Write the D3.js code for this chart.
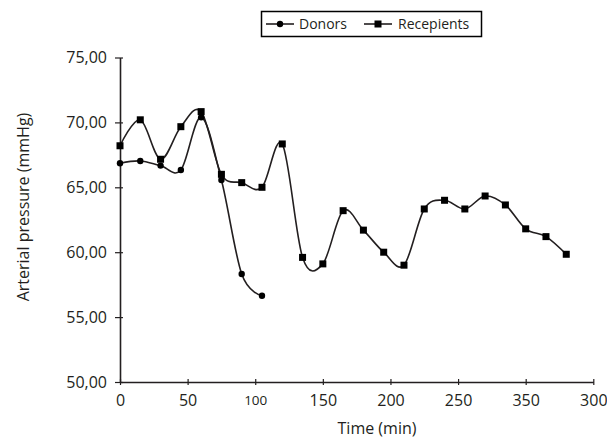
<!DOCTYPE html>
<html>
<head>
<meta charset="utf-8">
<script src="https://cdn.jsdelivr.net/npm/d3@7"></script>
<style>
  html, body { margin: 0; padding: 0; background: #fff; }
  svg { display: block; font-family: "Open Sans", "DejaVu Sans", sans-serif; }
</style>
</head>
<body>
<svg id="chart" width="607" height="440"></svg>
<script>
// ---- data ----
const donorTimes = [0, 15, 30, 45, 60, 75, 90, 105];
const donorValues = [66.85, 67.03, 66.67, 66.33, 70.39, 65.56, 58.32, 56.65];

const recipientTimes = [0, 15, 30, 45, 60, 75, 90, 105, 120, 135, 150, 165, 180, 195, 210, 225, 240, 255, 270, 285, 300, 315, 330];
const recipientValues = [68.2, 70.2, 67.16, 69.67, 70.83, 66.0, 65.36, 65.0, 68.34, 59.6, 59.1, 63.2, 61.7, 60.0, 59.0, 63.33, 64.0, 63.33, 64.33, 63.64, 61.8, 61.2, 59.84];

const xTickValues = [0, 50, 100, 150, 200, 250, 300, 350];
const xTickLabels = ["0", "50", "100", "150", "200", "250", "350", "300"];
const yTickValues = [50, 55, 60, 65, 70, 75];
const yTickLabels = ["50,00", "55,00", "60,00", "65,00", "70,00", "75,00"];

const seriesNames = ["Donors", "Recepients"];

// ---- layout ----
const svg = d3.select("#chart");
const x = d3.scaleLinear().domain([0, 350]).range([120, 593.3]);
const y = d3.scaleLinear().domain([50, 75]).range([382, 57.5]);
const ink = "#231f20";

// axes
const xAxis = d3.axisBottom(x).tickValues(xTickValues)
  .tickFormat((d, i) => xTickLabels[i]).tickSizeInner(3).tickSizeOuter(0).tickPadding(10);
const gx = svg.append("g").attr("transform", `translate(0,${y(50)})`).call(xAxis);
gx.select(".domain").attr("stroke", ink).attr("stroke-width", 1.6);
gx.selectAll(".tick line").attr("stroke", ink).attr("stroke-width", 1.2).attr("y1", -3).attr("y2", 3);
gx.selectAll(".tick text").attr("fill", ink).attr("font-size", (d, i) => xTickLabels[i] === "100" ? 13.5 : 16)
  .attr("font-family", "'Open Sans', sans-serif");

const yAxis = d3.axisLeft(y).tickValues(yTickValues)
  .tickFormat((d, i) => yTickLabels[i]).tickSizeInner(5).tickSizeOuter(0).tickPadding(8);
const gy = svg.append("g").attr("transform", `translate(${x(0)},0)`).call(yAxis);
gy.select(".domain").attr("stroke", ink).attr("stroke-width", 1.6);
gy.selectAll(".tick line").attr("stroke", ink).attr("stroke-width", 1.2).attr("x1", 3).attr("x2", -5);
gy.selectAll(".tick text").attr("fill", ink).attr("font-size", 16)
  .attr("font-family", "'Open Sans', sans-serif");

// axis titles
svg.append("text").attr("x", 377).attr("y", 434).attr("text-anchor", "middle")
  .attr("font-size", 16).attr("fill", ink).text("Time (min)");
svg.append("text").attr("transform", "translate(29,207) rotate(-90)").attr("text-anchor", "middle")
  .attr("font-size", 16).attr("fill", ink).text("Arterial pressure (mmHg)");

// lines
const line = d3.line().x(d => x(d[0])).y(d => y(d[1])).curve(d3.curveCardinal.tension(0));
const donors = donorTimes.map((t, i) => [t, donorValues[i]]);
const recips = recipientTimes.map((t, i) => [t, recipientValues[i]]);

svg.append("path").datum(recips).attr("d", line).attr("fill", "none")
  .attr("stroke", ink).attr("stroke-width", 1.6);
svg.append("path").datum(donors).attr("d", line).attr("fill", "none")
  .attr("stroke", ink).attr("stroke-width", 1.6);

// markers
svg.append("g").selectAll("rect").data(recips).join("rect")
  .attr("x", d => x(d[0]) - 3.5).attr("y", d => y(d[1]) - 3.5)
  .attr("width", 7).attr("height", 7).attr("fill", "#000");
svg.append("g").selectAll("circle").data(donors).join("circle")
  .attr("cx", d => x(d[0])).attr("cy", d => y(d[1])).attr("r", 3.2).attr("fill", "#000");

// legend
const lg = svg.append("g");
lg.append("rect").attr("x", 261.5).attr("y", 11.5).attr("width", 220).attr("height", 25)
  .attr("fill", "#fff").attr("stroke", "#000").attr("stroke-width", 1.5);
const ly = 24;
const items = [
  { name: seriesNames[0], x0: 266, shape: "circle", tx: 299 },
  { name: seriesNames[1], x0: 364, shape: "square", tx: 398 }
];
items.forEach(it => {
  lg.append("line").attr("x1", it.x0).attr("x2", it.x0 + 28).attr("y1", ly).attr("y2", ly)
    .attr("stroke", ink).attr("stroke-width", 1.6);
  if (it.shape === "circle") {
    lg.append("circle").attr("cx", it.x0 + 14).attr("cy", ly).attr("r", 3.2).attr("fill", "#000");
  } else {
    lg.append("rect").attr("x", it.x0 + 14 - 3.5).attr("y", ly - 3.5).attr("width", 7).attr("height", 7).attr("fill", "#000");
  }
  lg.append("text").attr("x", it.tx).attr("y", ly + 5).attr("font-size", 14).attr("fill", ink).text(it.name);
});
</script>
</body>
</html>
